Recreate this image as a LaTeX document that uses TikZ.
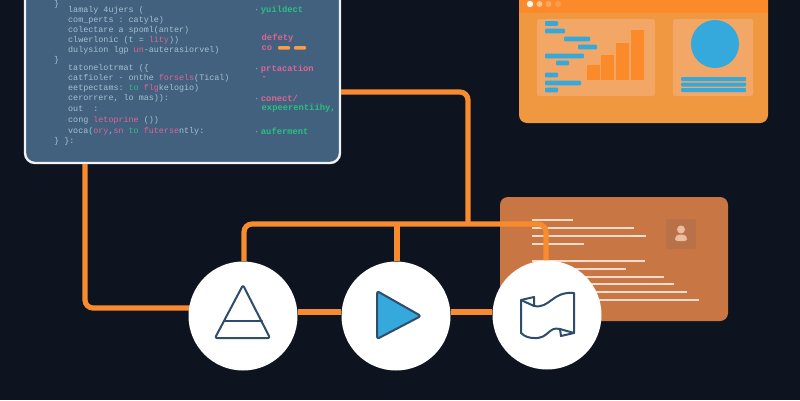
\documentclass[tikz,border=0pt]{standalone}
\usepackage{fontspec}
\setmonofont{Liberation Mono}
\definecolor{bgc}{HTML}{0E1320}
\definecolor{codec}{HTML}{41617F}
\definecolor{txtc}{HTML}{A6C0D2}
\definecolor{pinkc}{HTML}{DE6593}
\definecolor{greenc}{HTML}{2CC07F}
\definecolor{wirec}{HTML}{F78B2D}
\definecolor{winc}{HTML}{EF983F}
\definecolor{headc}{HTML}{FB8A2B}
\definecolor{subc}{HTML}{F2A766}
\definecolor{bluec}{HTML}{35A8DC}
\definecolor{cardc}{HTML}{C97645}
\definecolor{linec}{HTML}{F8DCCB}
\definecolor{iconc}{HTML}{2E4C6B}
\newcommand{\pk}[1]{\textcolor{pinkc}{#1}}
\newcommand{\gr}[1]{\textcolor{greenc}{#1}}
\tikzset{
  codeline/.style={anchor=west,inner sep=0pt,text=txtc,font=\ttfamily\fontsize{8.4}{10}\selectfont},
  sideg/.style={anchor=west,inner sep=0pt,text=greenc,font=\ttfamily\bfseries\fontsize{8.8}{10}\selectfont},
  sidep/.style={anchor=west,inner sep=0pt,text=pinkc,font=\ttfamily\bfseries\fontsize{8.8}{10}\selectfont},
  wire/.style={draw=wirec,line width=5.2pt,rounded corners=8pt},
  hub/.style={circle,fill=white,minimum size=109pt,inner sep=0pt},
  icon/.style={draw=iconc,line width=2pt,line join=round,line cap=round},
  bluebar/.style={fill=bluec,rounded corners=1pt},
  whitebar/.style={fill=linec},
}
\begin{document}
\begin{tikzpicture}[x=1pt,y=-1pt]
\fill[bgc] (0,0) rectangle (800,400);
\clip (0,0) rectangle (800,400);
\useasboundingbox (0,0) rectangle (800,400);

% code panel
\node[draw=white!92!codec,fill=codec,line width=2.4pt,rounded corners=10pt,minimum width=315pt,minimum height=203pt,inner sep=0pt] (code) at (182.5,61.5) {};
\node[codeline] (t0) at (54,4) {\}};
\node[codeline] (t1) at (68,10) {lamaly 4ujers (};
\node[codeline] (t2) at (68,20) {com\_perts : catyle)};
\node[codeline] (t3) at (68,30) {colectare a spoml(anter)};
\node[codeline] (t4) at (68,40) {clwerlonic (t = \pk{lity}))};
\node[codeline] (t5) at (68,50) {dulysion lgp \pk{un}-auterasiorvel)};
\node[codeline] (t6) at (54,60) {\}};
\node[codeline] (t7) at (68,68) {tatonelotrmat (\{};
\node[codeline] (t8) at (68,78) {catfioler - onthe \pk{forsels}(Tical)};
\node[codeline] (t9) at (68,88) {eetpectams: \gr{to} \pk{flg}kelogio)};
\node[codeline] (t10) at (68,98) {cerorrere, lo mas)):};
\node[codeline] (t11) at (68,109) {out \ :};
\node[codeline] (t12) at (68,120) {cong \pk{letoprine} ())};
\node[codeline] (t13) at (68,131) {voca(\pk{ory},\pk{sn} \gr{to} \pk{futerse}ntly:};
\node[codeline] (t14) at (54,141) {\} \}:};

\node[sideg] (s1) at (254,10) {\textcolor{txtc!80!black}{·}\,yuildect};
\node[sidep] (s2) at (261.5,38) {defety};
\node[sidep] (s3) at (261.5,48) {co};
\fill[wirec!85!white,rounded corners=1pt] (278,46) rectangle (290,49.5);
\fill[wirec!85!white,rounded corners=1pt] (294,46) rectangle (306,49.5);
\node[sidep] (s4) at (254,69) {\textcolor{txtc!80!black}{·}\,prtacation};
\node[sidep] (s5) at (261.5,78) {-};
\node[sidep] (s6) at (254,98) {\textcolor{txtc!80!black}{·}\,conect/};
\node[sideg] (s7) at (261.5,108) {expeerentiihy,};
\node[sideg] (s8) at (254,131) {\textcolor{txtc!80!black}{·}\,auferment};

% dashboard window
\fill[winc,rounded corners=8pt] (519,-15) rectangle (768,123);
\begin{scope}
  \clip[rounded corners=8pt] (519,-15) rectangle (768,123);
  \fill[headc] (519,-15) rectangle (768,13);
\end{scope}
\fill[white!95!headc] (530,4) circle (3.2);
\fill[white!45!headc] (539.5,4) circle (3);
\fill[white!25!headc] (548.5,4) circle (3);
\fill[white!15!headc] (558,4) circle (3);
\fill[subc,rounded corners=2pt] (537,19) rectangle (655,96);
\fill[subc,rounded corners=2pt] (673,19) rectangle (753,96);
\foreach \a/\b/\c in {545/558/23.5,545/565/31,564/590/39,578/597/47,545/584/56,556/569/63,545/558/75,545/581/83,545/558/90}
  \fill[bluebar] (\a,\c-2.4) rectangle (\b,\c+2.4);
\foreach \a/\b/\c in {587/600/65,601/614/55,616/629/43,631/644/30}
  \fill[headc] (\a,\c) rectangle (\b,80);
\fill[bluec] (715,44) circle (24);
\foreach \c in {79,84.5,90}
  \fill[bluebar] (681,\c-2) rectangle (746,\c+2);

% card
\fill[cardc,rounded corners=8pt] (500,197) rectangle (728,321);
\foreach \b/\c in {573/220,634/228,646/236,584/244,645/261,626/269,664/277,674/284,687/292,699/300}
  \fill[whitebar] (532,\c-1.3) rectangle (\b,\c+1.3);
\fill[cardc!90!black!95!white,rounded corners=2pt] (666,219) rectangle (696,249);
\fill[linec!70!cardc] (681,229.5) circle (4);
\fill[linec!70!cardc,rounded corners=2.5pt] (675,241) -- (675,237) -- (678,234.5) -- (684,234.5) -- (687,237) -- (687,241) -- cycle;

% hubs, kept above the wires by a layer
\pgfdeclarelayer{top}\pgfsetlayers{main,top}
\begin{pgfonlayer}{top}
\node[hub] (c1) at (243,316) {};
\node[hub] (c2) at (396,316) {};
\node[hub] (c3) at (547,315) {};
\draw[icon,rounded corners=2pt] (243,285) -- (270,338) -- (215,338) -- cycle;
\draw[icon] (224,321) -- (262,321);
\draw[icon,fill=bluec,rounded corners=2.5pt] (377,291) -- (421,316) -- (377,339) -- cycle;
\draw[icon] (521,300) -- (534,297) -- (534,306)
  .. controls (550,309) and (552,291) .. (574,293)
  -- (574,333) -- (561,336) -- (560,329)
  .. controls (548,326) and (549,339) .. (534,338)
  .. controls (530,338) and (525,337) .. (521,333) -- cycle;
\draw[icon] (521,300) -- (534,306);
\draw[icon] (560,329) -- (574,333);
\end{pgfonlayer}

% connectors
\coordinate (j1) at (85,308);
\coordinate (j2) at (468,92);
\coordinate (busl) at (244,224);
\coordinate (busr) at (546,224);
\coordinate (busm) at (397,224);
\coordinate (busj) at (468,224);
\draw[wire] (code.south -| j1) -- (j1) -- (j1 -| c1);
\draw[wire] (code.east |- j2) -- (j2) -- (busj);
\draw[wire] (c1.north -| busl) -- (busl) -- (busr) -- (c3.north -| busr);
\draw[wire] (c2.north -| busm) -- (busm);
\draw[wire] (c1.east |- 0,312) -- (c2.west |- 0,312);
\draw[wire] (c2.east |- 0,312) -- (c3.west |- 0,312);
\end{tikzpicture}
\end{document}
